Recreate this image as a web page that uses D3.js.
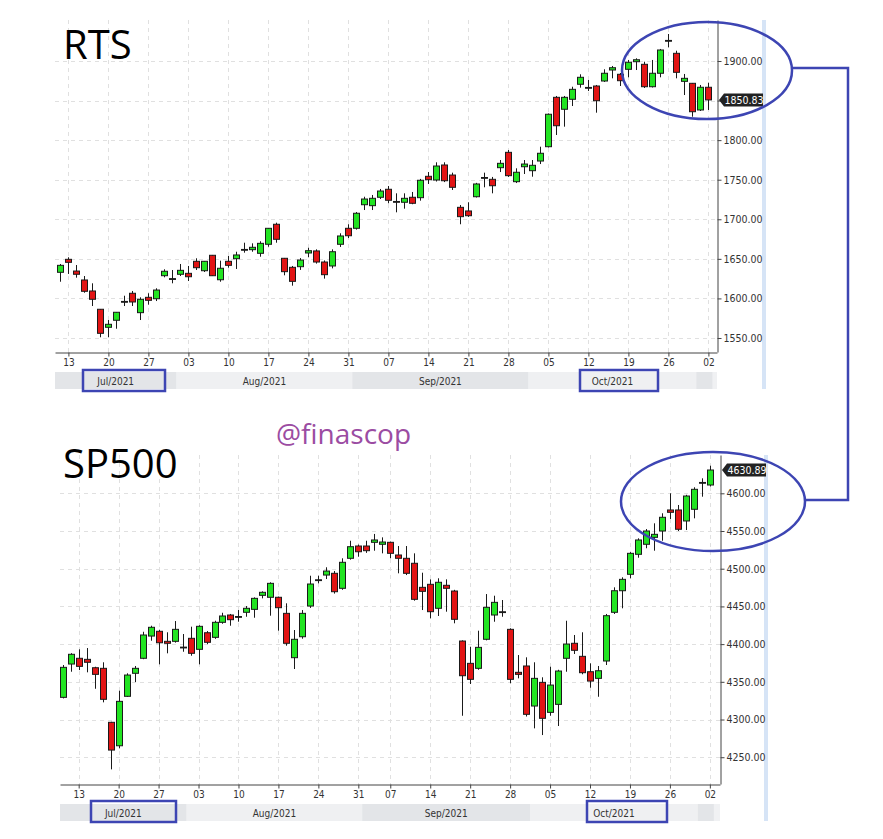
<!DOCTYPE html>
<html><head><meta charset="utf-8">
<script src="https://cdn.jsdelivr.net/npm/d3@7"></script>
<style>body{margin:0;background:#fff}svg{display:block}</style>
</head><body><svg id="c" width="883" height="839"></svg>
<script>
// ---------- DATA ----------
const rtsOpen  = [1633.0,1649.4,1634.6,1623.3,1609.4,1586.3,1563.5,1572.4,1595.5,1606.5,1582.0,1601.4,1599.6,1628.7,1624.5,1630.5,1631.7,1646.9,1635.0,1654.5,1623.6,1646.9,1650.2,1661.3,1661.6,1657.0,1668.4,1693.7,1650.7,1639.3,1640.1,1657.4,1660.0,1646.0,1641.0,1668.4,1688.6,1688.6,1718.4,1717.2,1727.8,1737.9,1722.0,1721.5,1727.8,1727.3,1754.3,1749.6,1768.6,1755.9,1715.1,1710.5,1728.5,1752.2,1750.5,1765.2,1784.6,1747.5,1766.4,1761.4,1773.6,1791.7,1854.1,1839.0,1851.6,1870.6,1866.0,1868.4,1874.7,1888.6,1883.2,1889.5,1899.1,1895.8,1867.5,1884.5,1925.4,1909.7,1874.3,1871.8,1838.1,1866.8];
const rtsHigh  = [1643.5,1652.0,1642.2,1628.3,1619.1,1586.6,1572.7,1582.8,1603.4,1609.4,1601.4,1606.5,1612.8,1636.8,1635.9,1643.5,1641.0,1650.7,1647.3,1654.9,1647.7,1653.6,1659.0,1670.4,1669.6,1672.2,1689.0,1695.7,1651.1,1641.0,1651.0,1664.0,1662.0,1648.0,1662.0,1682.3,1693.7,1709.2,1728.5,1730.7,1738.3,1742.0,1732.8,1732.8,1734.5,1751.0,1759.7,1772.0,1772.0,1758.9,1718.0,1721.5,1746.0,1758.9,1753.5,1774.9,1787.5,1764.4,1774.9,1774.9,1791.7,1833.7,1855.8,1855.8,1867.5,1883.2,1876.0,1869.7,1889.5,1893.7,1884.8,1901.3,1903.4,1899.1,1901.3,1915.2,1934.1,1913.0,1883.6,1872.2,1869.7,1872.6];
const rtsLow   = [1621.1,1630.9,1626.2,1607.2,1590.4,1550.9,1550.9,1561.7,1590.4,1590.4,1572.7,1592.1,1596.7,1626.7,1619.1,1628.3,1622.0,1635.9,1633.4,1628.3,1621.1,1638.8,1637.2,1657.8,1659.0,1652.7,1665.3,1670.4,1629.2,1616.1,1636.0,1652.0,1644.0,1625.0,1638.0,1665.0,1676.3,1687.0,1711.7,1711.7,1725.6,1720.2,1708.8,1713.4,1719.0,1723.5,1744.6,1747.7,1747.0,1737.0,1693.7,1703.0,1727.5,1740.4,1732.8,1759.7,1753.5,1745.8,1757.2,1753.8,1769.8,1790.7,1806.5,1817.0,1843.1,1866.3,1862.1,1834.7,1873.5,1878.1,1868.4,1879.4,1888.6,1865.9,1866.5,1879.4,1917.3,1878.1,1857.0,1829.6,1836.8,1838.1];
const rtsClose = [1641.8,1645.6,1630.5,1609.0,1598.9,1555.9,1567.3,1582.5,1596.2,1595.5,1598.9,1597.6,1610.6,1634.3,1625.0,1635.5,1627.4,1638.8,1646.9,1628.7,1638.1,1641.8,1654.9,1661.9,1664.6,1669.6,1688.6,1674.7,1633.8,1621.6,1648.5,1660.3,1646.0,1630.0,1659.0,1678.9,1679.2,1707.6,1725.6,1726.5,1735.7,1724.0,1722.5,1726.5,1720.2,1749.3,1750.0,1767.3,1748.7,1740.4,1703.3,1704.5,1744.6,1752.8,1742.4,1770.7,1755.1,1759.4,1769.8,1768.2,1783.4,1832.7,1818.2,1854.1,1864.2,1879.4,1866.6,1849.8,1884.5,1891.5,1875.1,1898.4,1901.6,1867.5,1884.5,1913.9,1926.0,1885.7,1878.1,1835.9,1866.8,1850.83];

const spOpen  = [4329.4,4373.6,4381.2,4379.8,4368.7,4367.9,4296.3,4265.2,4330.8,4361.3,4381.2,4410.7,4417.0,4403.7,4403.7,4395.5,4407.7,4393.1,4415.1,4409.0,4428.9,4438.6,4436.0,4442.2,4446.1,4464.7,4462.1,4462.1,4440.8,4382.0,4409.8,4450.5,4484.7,4491.6,4493.9,4474.0,4513.8,4530.1,4530.1,4535.0,4532.4,4535.0,4518.2,4513.8,4507.2,4475.3,4479.3,4447.5,4478.0,4470.4,4404.1,4374.5,4367.9,4406.4,4438.6,4442.3,4419.6,4362.6,4371.0,4317.9,4349.3,4309.5,4320.1,4381.2,4401.1,4383.8,4363.4,4354.6,4377.6,4442.2,4470.8,4492.6,4519.1,4532.4,4541.6,4550.0,4577.9,4577.9,4563.3,4578.8,4613.8,4611.0];
const spHigh  = [4372.3,4388.0,4393.1,4394.8,4370.0,4375.9,4297.0,4338.2,4361.3,4371.0,4416.4,4424.4,4419.0,4415.7,4430.6,4413.4,4423.1,4425.0,4417.3,4431.0,4441.6,4440.0,4445.2,4450.5,4462.0,4470.0,4482.0,4463.0,4454.1,4418.7,4445.2,4490.7,4490.7,4501.9,4497.0,4513.8,4537.1,4532.0,4537.1,4546.1,4541.6,4536.0,4530.1,4530.1,4520.4,4494.7,4485.9,4487.3,4485.9,4472.0,4405.0,4396.5,4417.8,4466.4,4464.2,4458.5,4421.0,4385.5,4382.5,4375.9,4356.0,4370.0,4366.0,4431.0,4412.1,4415.7,4374.5,4371.0,4440.0,4475.3,4488.6,4522.0,4540.3,4552.6,4560.2,4573.5,4600.0,4584.5,4598.0,4608.0,4619.9,4636.6];
const spLow   = [4328.0,4363.4,4365.6,4362.6,4340.8,4322.8,4233.9,4261.8,4330.0,4349.7,4380.0,4404.5,4373.2,4387.8,4402.0,4389.9,4384.6,4373.2,4400.0,4407.0,4427.0,4424.4,4429.7,4436.3,4435.0,4460.7,4437.7,4417.8,4397.9,4367.0,4407.2,4448.0,4480.6,4486.3,4467.0,4472.0,4512.0,4515.9,4521.0,4523.9,4520.4,4513.8,4493.9,4491.6,4457.6,4445.2,4434.2,4437.3,4443.0,4427.6,4305.0,4347.1,4366.0,4405.0,4429.7,4436.3,4348.0,4354.6,4304.0,4288.3,4279.4,4305.0,4291.4,4363.4,4386.9,4360.0,4342.2,4330.2,4372.3,4440.0,4447.5,4487.3,4514.6,4527.1,4523.9,4537.1,4565.9,4550.0,4551.3,4566.8,4595.5,4609.0];
const spClose = [4369.2,4386.5,4370.5,4375.9,4359.9,4326.8,4259.5,4324.1,4359.0,4367.9,4412.1,4422.3,4401.8,4401.1,4419.6,4396.0,4387.8,4423.6,4402.4,4428.9,4437.3,4432.4,4436.6,4447.5,4460.7,4468.7,4480.6,4448.3,4401.1,4406.4,4440.8,4479.7,4485.3,4496.9,4469.5,4508.5,4529.2,4522.5,4523.9,4538.1,4535.4,4520.4,4513.8,4493.9,4459.4,4470.0,4443.0,4482.0,4474.0,4432.9,4358.1,4353.3,4395.7,4448.8,4455.4,4442.9,4353.3,4359.9,4306.9,4354.6,4301.6,4345.7,4364.3,4400.1,4391.8,4362.1,4351.0,4364.7,4437.7,4470.8,4485.9,4520.4,4538.1,4550.0,4545.6,4568.2,4574.8,4552.3,4596.4,4605.3,4614.4,4630.89];

const tickLabels   = ["13","20","27","03","10","17","24","31","07","14","21","28","05","12","19","26","02"];
const rtsTickIdx   = [1,6,11,16,21,26,31,36,41,46,51,56,61,66,71,76,81];
const spTickIdx    = [2,7,12,17,22,27,32,37,41,46,51,56,61,66,71,76,81];
const monthLabels  = ["Jul/2021","Aug/2021","Sep/2021","Oct/2021",""];
const rtsMonthStart= [0,15,37,59,80];
const spMonthStart = [0,16,38,59,80];
const rtsYTicks = [1550,1600,1650,1700,1750,1800,1850,1900];
const spYTicks  = [4250,4300,4350,4400,4450,4500,4550,4600];
const rtsLast = 1850.83, spLast = 4630.89;

// ---------- DRAW ----------
const svg = d3.select("#c");
const GREEN = "#22e422", RED = "#e21414", EDGE = "#1a1a1a", BLUE = "#3d45b3";
const monoFont = "'DejaVu Sans', sans-serif";

function drawPanel(o) {
  const g = svg.append("g");
  const N = o.open.length;
  const x = d3.scaleLinear().domain(o.xDomain).range([o.left, o.axisX]);
  const y = d3.scaleLinear().domain(o.yDomain).range([o.axisY, o.top]);
  const step = x(1) - x(0);

  // right light-blue strip
  g.append("rect").attr("x", o.stripX).attr("y", o.top).attr("width", 4)
    .attr("height", o.axisY + 37 - o.top).attr("fill", "#d6e4f6");

  // grid
  g.append("g").selectAll("line").data(o.yTicks).join("line")
    .attr("x1", o.left).attr("x2", o.axisX)
    .attr("y1", d => Math.round(y(d)) + 0.5).attr("y2", d => Math.round(y(d)) + 0.5)
    .attr("stroke", "#e0e0e0").attr("stroke-dasharray", "4,4");
  g.append("g").selectAll("line").data(o.tickIdx).join("line")
    .attr("x1", d => Math.round(x(d)) + 0.5).attr("x2", d => Math.round(x(d)) + 0.5)
    .attr("y1", o.top).attr("y2", o.axisY)
    .attr("stroke", "#e0e0e0").attr("stroke-dasharray", "4,4");

  // title
  g.append("text").attr("x", 63).attr("y", o.titleY).text(o.title)
    .attr("font-family", "'Open Sans', 'Noto Sans', sans-serif").attr("font-size", 40).attr("fill", "#000");

  // month bands
  const bandY = o.axisY + 20, bandH = 17;
  const bands = o.monthStart.map((s, k) => {
    const x0 = k === 0 ? o.left : x(s) - step / 2;
    const x1 = k === o.monthStart.length - 1 ? x(N - 1) + step / 2 : x(o.monthStart[k + 1]) - step / 2;
    return {x0, x1, label: monthLabels[k], k};
  });
  g.append("rect").attr("x", o.left).attr("y", bandY).attr("width", o.axisX - o.left).attr("height", bandH).attr("fill", "#f0f1f3");
  g.append("g").selectAll("rect").data(bands).join("rect")
    .attr("x", d => d.x0).attr("y", bandY).attr("width", d => d.x1 - d.x0).attr("height", bandH)
    .attr("fill", d => d.k % 2 === 0 ? "#e3e5e8" : "#eff0f2");
  g.append("g").selectAll("text").data(bands).join("text")
    .attr("x", d => (d.x0 + d.x1) / 2).attr("y", bandY + 12.5).attr("text-anchor", "middle")
    .attr("font-family", monoFont).attr("font-size", 10).attr("font-stretch", "condensed")
    .attr("fill", "#333").text(d => d.label);

  // candles
  const idx = d3.range(N);
  const cg = g.append("g");
  cg.selectAll("line").data(idx).join("line")
    .attr("x1", i => Math.round(x(i)) + 0.5).attr("x2", i => Math.round(x(i)) + 0.5)
    .attr("y1", i => y(o.high[i])).attr("y2", i => y(o.low[i]))
    .attr("stroke", EDGE).attr("stroke-width", 1);
  cg.selectAll("rect").data(idx).join("rect")
    .attr("x", i => Math.round(x(i)) - 2.5).attr("width", 6)
    .attr("y", i => y(Math.max(o.open[i], o.close[i])))
    .attr("height", i => Math.max(0.8, Math.abs(y(o.open[i]) - y(o.close[i]))))
    .attr("fill", i => Math.abs(o.close[i] - o.open[i]) < 1.2 ? EDGE : (o.close[i] >= o.open[i] ? GREEN : RED))
    .attr("stroke", EDGE).attr("stroke-width", 1);

  // axes
  const ya = d3.axisRight(y).tickValues(o.yTicks).tickFormat(d3.format(".2f")).tickSize(4).tickSizeOuter(0);
  const yg = g.append("g").attr("transform", `translate(${o.axisX + 0.5},0)`).call(ya);
  yg.select(".domain").attr("stroke", "#444");
  yg.selectAll(".tick line").attr("stroke", "#444");
  yg.selectAll("text").attr("font-family", monoFont).attr("font-size", 10.5).attr("font-stretch", "condensed")
    .attr("fill", "#333").attr("x", 6);

  const xa = d3.axisBottom(x).tickValues(o.tickIdx).tickFormat((d, i) => tickLabels[i]).tickSize(4).tickSizeOuter(0);
  const xg = g.append("g").attr("transform", `translate(0,${o.axisY + 0.5})`).call(xa);
  xg.select(".domain").attr("stroke", "#444");
  xg.selectAll(".tick line").attr("stroke", "#444");
  xg.selectAll("text").attr("font-family", monoFont).attr("font-size", 10).attr("font-stretch", "condensed")
    .attr("fill", "#333").attr("y", 6);

  // last price tag
  const ty = y(o.last);
  const tag = g.append("g").attr("transform", `translate(${o.axisX + 2},${ty})`);
  tag.append("path").attr("d", "M0,0 L5,-6.5 H44 V6.5 H5 Z").attr("fill", "#222");
  tag.append("text").attr("x", 25).attr("y", 4).attr("text-anchor", "middle")
    .attr("font-family", monoFont).attr("font-size", 10.5).attr("font-stretch", "condensed")
    .attr("fill", "#fff").text(d3.format(".2f")(o.last));
}

drawPanel({
  title: "RTS", titleY: 59,
  open: rtsOpen, high: rtsHigh, low: rtsLow, close: rtsClose,
  left: 55, axisX: 717, top: 20, axisY: 352, stripX: 762,
  xDomain: [-0.675, 82.075], yDomain: [1532.3, 1951.8],
  yTicks: rtsYTicks, tickIdx: rtsTickIdx, monthStart: rtsMonthStart, last: rtsLast
});
drawPanel({
  title: "SP500", titleY: 478,
  open: spOpen, high: spHigh, low: spLow, close: spClose,
  left: 60, axisX: 720, top: 455, axisY: 784, stripX: 764,
  xDomain: [-0.338, 82.27], yDomain: [4214.5, 4650.8],
  yTicks: spYTicks, tickIdx: spTickIdx, monthStart: spMonthStart, last: spLast
});

// watermark
svg.append("text").attr("x", 276).attr("y", 444).text("@finascop")
  .attr("font-family", "'Open Sans', 'Noto Sans', sans-serif").attr("font-size", 28).attr("fill", "#9b4ca2");

// annotations
const ann = svg.append("g").attr("fill", "none").attr("stroke", BLUE).attr("stroke-width", 2.5);
ann.append("ellipse").attr("cx", 707).attr("cy", 70.5).attr("rx", 85).attr("ry", 48.5);
ann.append("ellipse").attr("cx", 713).attr("cy", 501.5).attr("rx", 92).attr("ry", 49.5);
ann.append("polyline").attr("points", "792,68 848,68 848,500 805,500");
[[83,370,82,21],[580,370,78,21],[91,801,85,21],[587,801,80,21]].forEach(r =>
  ann.append("rect").attr("x", r[0]).attr("y", r[1]).attr("width", r[2]).attr("height", r[3]));
</script></body></html>
